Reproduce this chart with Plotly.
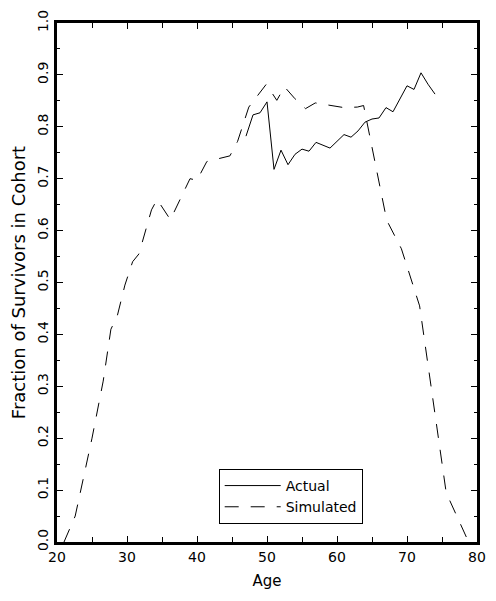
import plotly.graph_objects as go

# Actual survivors fraction by age
actual_age = [47, 48, 49, 50, 51, 52, 53, 54, 55, 56, 57, 58, 59, 60, 61, 62, 63, 64, 65, 66, 67, 68, 69, 70, 71, 72, 73, 74]
actual_val = [0.782, 0.823, 0.827, 0.848, 0.718, 0.755, 0.727, 0.747, 0.757, 0.753, 0.770, 0.765, 0.759, 0.772,
              0.785, 0.780, 0.792, 0.809, 0.815, 0.817, 0.837, 0.829, 0.855, 0.879, 0.872, 0.904, 0.882, 0.863]

# Simulated survivors fraction (vertices)
sim_age = [21.0, 22.6, 25.0, 26.6, 27.7, 28.6, 29.7, 30.8, 31.7, 32.5, 33.5, 34.3, 36.2, 39.0, 40.0, 41.4,
           44.7, 45.8, 47.4, 49.9, 51.4, 52.5, 54.0, 55.5, 56.9, 61.0, 62.9, 63.8, 67.1, 69.2, 71.8, 75.6, 78.8]
sim_val = [0.0, 0.05, 0.20, 0.31, 0.41, 0.435, 0.495, 0.54, 0.555, 0.595, 0.64, 0.66, 0.621, 0.70, 0.697, 0.733,
           0.744, 0.772, 0.838, 0.882, 0.851, 0.877, 0.854, 0.835, 0.846, 0.837, 0.838, 0.841, 0.62, 0.565, 0.455,
           0.095, 0.0]

FONT = "DejaVu Sans"

fig = go.Figure()
fig.add_trace(go.Scatter(x=actual_age, y=actual_val, mode="lines", name="Actual",
                         line=dict(color="black", width=1)))
fig.add_trace(go.Scatter(x=sim_age, y=sim_val, mode="lines", name="Simulated",
                         line=dict(color="black", width=1, dash="14px,12px")))

axis_common = dict(
    showline=True, linewidth=3, linecolor="black", mirror="allticks",
    ticks="inside", tickcolor="black", tickwidth=1, ticklen=6,
    showgrid=False, zeroline=False,
    tickfont=dict(family=FONT, size=14, color="black"),
)

fig.update_xaxes(range=[20, 80], dtick=10, tick0=20,
                 minor=dict(dtick=5, ticks="inside", ticklen=5, tickcolor="black", tickwidth=1),
                 title=dict(text="Age", font=dict(family=FONT, size=15, color="black"), standoff=12),
                 **axis_common)
fig.update_yaxes(range=[0, 1.0], dtick=0.1, tick0=0, tickformat=".1f", tickangle=-90,
                 minor=dict(dtick=0.05, ticks="inside", ticklen=3, tickcolor="black", tickwidth=1),
                 title=dict(text="Fraction of Survivors in Cohort",
                            font=dict(family=FONT, size=18, color="black"), standoff=6),
                 **axis_common)

fig.update_layout(
    width=496, height=601,
    margin=dict(l=57, r=10, t=16, b=59),
    plot_bgcolor="white", paper_bgcolor="white",
    font=dict(family=FONT, size=14, color="black"),
    legend=dict(x=0.385, y=0.1407, xanchor="left", yanchor="top",
                bgcolor="white", bordercolor="black", borderwidth=1,
                font=dict(family=FONT, size=14, color="black"),
                itemwidth=56, tracegroupgap=0),
    showlegend=True,
)

fig.write_html("out.html")
